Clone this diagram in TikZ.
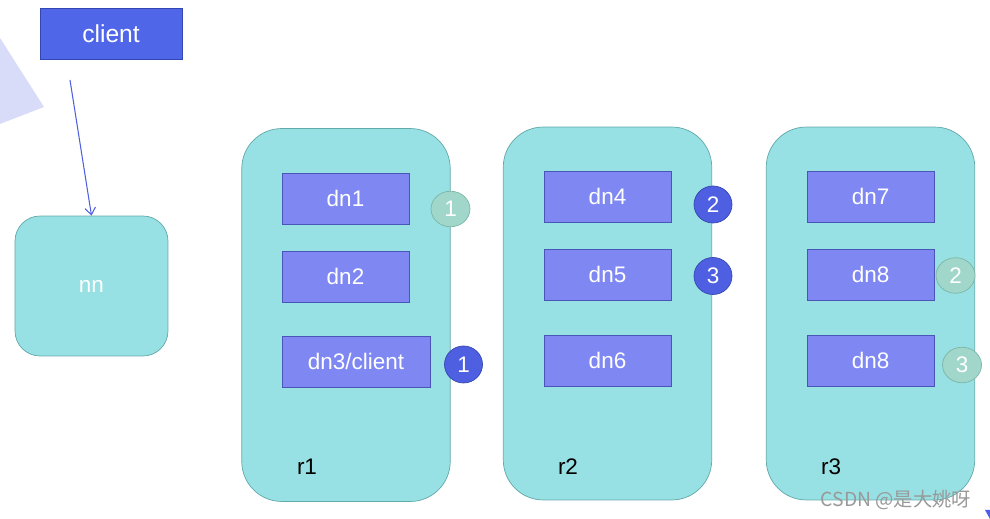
\documentclass[tikz,border=0pt]{standalone}
\usepackage{fontspec}
\setmainfont{Liberation Sans}
\newfontfamily\cjkfont{Noto Sans CJK SC}
\usetikzlibrary{shapes}
\usetikzlibrary{arrows}
\usetikzlibrary{arrows.meta}
\definecolor{rackfill}{HTML}{97E0E3}
\definecolor{rackline}{HTML}{62A9AA}
\definecolor{dnfill}{HTML}{7F88F2}
\definecolor{dnline}{HTML}{4A55B8}
\definecolor{clientfill}{HTML}{4F66E8}
\definecolor{clientline}{HTML}{3447B0}
\definecolor{markblue}{HTML}{4E5FE2}
\definecolor{markgreen}{HTML}{A0D7CA}
\definecolor{markgreenline}{HTML}{7DB5A6}
\definecolor{paleblue}{HTML}{D8DCF8}
\tikzset{
  boxtext/.style = {align=center, inner sep=0pt, text centered,
    font=\fontsize{12.8}{15}\selectfont},
  rack_node/.style = {boxtext, rectangle, rounded corners=0.8cm,
    draw=rackline, fill=rackfill, minimum width=4.17cm, minimum height=7.46cm},% rack
  nn_node/.style = {boxtext, rectangle, rounded corners=0.5cm, white,
    draw=rackline, fill=rackfill, minimum width=3.06cm, minimum height=2.8cm},% namenode
  dn_node/.style = {boxtext, rectangle, white, draw=dnline, fill=dnfill,
    minimum width=2.54cm, minimum height=1.02cm},% datanode
  client_node/.style = {boxtext, rectangle, white, draw=clientline,
    fill=clientfill, minimum width=2.84cm, minimum height=1.02cm},% client
  blue_mark/.style = {boxtext, ellipse, white, draw=clientline, fill=markblue,
    minimum width=0.76cm, minimum height=0.74cm},% pipeline step, blue
  green_mark/.style = {boxtext, ellipse, white, draw=markgreenline, fill=markgreen,
    minimum width=0.78cm, minimum height=0.71cm},% pipeline step, green
  rack_label/.style = {boxtext, black}
}
\begin{document}
\begin{tikzpicture}[x=0.02cm, y=-0.02cm]
  \useasboundingbox (0,0) rectangle (990,519);
  \fill[paleblue] (0,38) -- (44,107) -- (0,124) -- cycle;
  \fill[markblue] (985,510) -- (990,510) -- (990,519) -- cycle;

  \node [client_node, font=\fontsize{14}{16}\selectfont] (client) at (111,33.5) {client};
  \node [nn_node] (nn) at (91.5,286) {nn};
  \coordinate (reqstart) at (70,80);
  \draw [-{Straight Barb[length=4pt,width=6pt]}, markblue, semithick]
    (reqstart) -- (nn.north);

  \node [rack_node] (r1) at (346,315) {};
  \node [rack_node] (r2) at (607.5,313.5) {};
  \node [rack_node] (r3) at (870.5,313.5) {};
  \node [rack_label] (r1label) at (307,467) {r1};
  \node [rack_label] (r2label) at (568,467) {r2};
  \node [rack_label] (r3label) at (831,467) {r3};

  \node [dn_node] (dn1) at (345.5,198.5) {dn1};
  \node [dn_node] (dn2) at (345.5,276.5) {dn2};
  \node [dn_node, minimum width=2.96cm] (dn3) at (356,361.5) {dn3/client};
  \node [dn_node] (dn4) at (607.5,196.5) {dn4};
  \node [dn_node] (dn5) at (607.5,274.5) {dn5};
  \node [dn_node] (dn6) at (607.5,360.5) {dn6};
  \node [dn_node] (dn7) at (870.5,196.5) {dn7};
  \node [dn_node] (dn8) at (870.5,274.5) {dn8};
  \node [dn_node] (dn8b) at (870.5,360.5) {dn8};

  \node [green_mark] (g1) at (450.5,209) {1};
  \node [green_mark] (g2) at (955.5,275.5) {2};
  \node [green_mark] (g3) at (962,365) {3};
  \node [blue_mark] (b1) at (463.5,364.5) {1};
  \node [blue_mark] (b2) at (713,204.5) {2};
  \node [blue_mark] (b3) at (713,276) {3};

  \node [font=\cjkfont\fontsize{11}{13}\selectfont, text=black!40, inner sep=0pt]
    (mark) at (896,500) {CSDN @是大姚呀};
\end{tikzpicture}
\end{document}
